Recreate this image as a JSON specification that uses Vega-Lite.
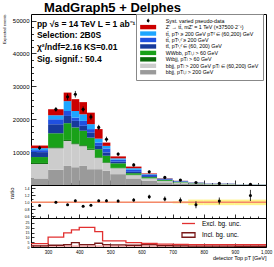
{
  "$schema": "https://vega.github.io/schema/vega-lite/v6.json",
  "autosize": "pad",
  "padding": {"left": 1, "top": 1, "right": 0, "bottom": 0},
  "spacing": 0,
  "bounds": "flush",
  "config": {
    "view": {"stroke": "#000", "strokeWidth": 1},
    "font": "Liberation Sans",
    "axis": {"grid": false, "domain": false, "tickColor": "#000", "labelColor": "#000", "titleColor": "#000", "labelFont": "Liberation Sans", "titleFont": "Liberation Sans", "titleFontWeight": "normal", "tickWidth": 0.8, "labelOverlap": false, "labelFlush": false}
  },
  "resolve": {"scale": {"x": "independent", "y": "independent", "color": "independent"}, "legend": {"color": "independent"}},
  "datasets": {
    "procs": [
      {"key": "p1", "proc": "bbjj, pTʲ,ʲ > 200 GeV"},
      {"key": "p2", "proc": "bbjj, pTʲ > 200 GeV pTʲ ∈ (60,200) GeV"},
      {"key": "p3", "proc": "Wtbjj, pTʲ > 60 GeV"},
      {"key": "p4", "proc": "WWbb, pTʲ,ʲ > 60 GeV"},
      {"key": "p5", "proc": "tt̄, pTᵗ,ᵗ̄ ∈ (60, 200) GeV"},
      {"key": "p6", "proc": "tt̄, pTᵗ,ᵗ̄ ≥ 200 GeV"},
      {"key": "p7", "proc": "tt̄, pTᵗ ≥ 200 GeV pTᵗ̄ ∈ (60,200) GeV"},
      {"key": "p8", "proc": "Z′ → tt̄, mZ′ = 1 TeV (×37500·2⁻¹)"}
    ],
    "bins": [
      {"lo": 245, "hi": 300, "p1": 2000, "p2": 4400, "p3": 300, "p4": 1800, "p5": 1500, "p6": 600, "p7": 600, "p8": 800, "sl": 0.985, "sh": 1.015},
      {"lo": 300, "hi": 350, "p1": 4600, "p2": 6600, "p3": 300, "p4": 4200, "p5": 2800, "p6": 1500, "p7": 1200, "p8": 1800, "sl": 0.985, "sh": 1.015},
      {"lo": 350, "hi": 375, "p1": 5800, "p2": 7600, "p3": 300, "p4": 5100, "p5": 2200, "p6": 1500, "p7": 3000, "p8": 2600, "sl": 0.985, "sh": 1.015},
      {"lo": 375, "hi": 400, "p1": 5400, "p2": 7000, "p3": 300, "p4": 4800, "p5": 2000, "p6": 1000, "p7": 2000, "p8": 3600, "sl": 0.985, "sh": 1.015},
      {"lo": 400, "hi": 425, "p1": 5800, "p2": 6000, "p3": 300, "p4": 4400, "p5": 1500, "p6": 1500, "p7": 2000, "p8": 3700, "sl": 0.985, "sh": 1.015},
      {"lo": 425, "hi": 450, "p1": 4800, "p2": 5900, "p3": 300, "p4": 3400, "p5": 1600, "p6": 1000, "p7": 1500, "p8": 3500, "sl": 0.985, "sh": 1.015},
      {"lo": 450, "hi": 475, "p1": 4800, "p2": 3400, "p3": 200, "p4": 2500, "p5": 1000, "p6": 1000, "p7": 1200, "p8": 2900, "sl": 0.985, "sh": 1.015},
      {"lo": 475, "hi": 500, "p1": 4300, "p2": 2400, "p3": 200, "p4": 2000, "p5": 1000, "p6": 1200, "p7": 800, "p8": 1000, "sl": 0.985, "sh": 1.015},
      {"lo": 500, "hi": 550, "p1": 3300, "p2": 1800, "p3": 100, "p4": 1400, "p5": 500, "p6": 600, "p7": 400, "p8": 600, "sl": 0.985, "sh": 1.015},
      {"lo": 550, "hi": 600, "p1": 2000, "p2": 1000, "p3": 100, "p4": 500, "p5": 400, "p6": 600, "p7": 500, "p8": 500, "sl": 0.985, "sh": 1.015},
      {"lo": 600, "hi": 650, "p1": 1300, "p2": 700, "p3": 50, "p4": 350, "p5": 300, "p6": 400, "p7": 200, "p8": 200, "sl": 0.985, "sh": 1.015},
      {"lo": 650, "hi": 700, "p1": 800, "p2": 400, "p3": 50, "p4": 250, "p5": 200, "p6": 200, "p7": 100, "p8": 100, "sl": 0.985, "sh": 1.015},
      {"lo": 700, "hi": 750, "p1": 500, "p2": 250, "p3": 30, "p4": 170, "p5": 120, "p6": 130, "p7": 50, "p8": 50, "sl": 0.97, "sh": 1.03},
      {"lo": 750, "hi": 800, "p1": 300, "p2": 150, "p3": 20, "p4": 100, "p5": 80, "p6": 80, "p7": 30, "p8": 40, "sl": 0.92, "sh": 1.08},
      {"lo": 800, "hi": 900, "p1": 170, "p2": 80, "p3": 10, "p4": 60, "p5": 50, "p6": 50, "p7": 10, "p8": 20, "sl": 0.92, "sh": 1.08},
      {"lo": 900, "hi": 1000, "p1": 80, "p2": 40, "p3": 5, "p4": 25, "p5": 20, "p6": 20, "p7": 5, "p8": 5, "sl": 0.92, "sh": 1.08}
    ],
    "pts": [
      {"x": 272.5, "n": 11300, "err": 600, "r": 0.91, "rerr": 0.03},
      {"x": 325, "n": 23000, "err": 700, "r": 1.0, "rerr": 0.03},
      {"x": 362.5, "n": 26800, "err": 1000, "r": 0.93, "rerr": 0.03},
      {"x": 387.5, "n": 27600, "err": 1000, "r": 1.05, "rerr": 0.03},
      {"x": 412.5, "n": 23000, "err": 900, "r": 0.89, "rerr": 0.03},
      {"x": 437.5, "n": 20700, "err": 900, "r": 0.92, "rerr": 0.03},
      {"x": 462.5, "n": 17500, "err": 800, "r": 1.05, "rerr": 0.03},
      {"x": 487.5, "n": 13900, "err": 800, "r": 1.05, "rerr": 0.04},
      {"x": 525, "n": 9400, "err": 500, "r": 1.04, "rerr": 0.04},
      {"x": 575, "n": 6100, "err": 500, "r": 1.07, "rerr": 0.05},
      {"x": 625, "n": 4000, "err": 400, "r": 1.16, "rerr": 0.06},
      {"x": 675, "n": 2300, "err": 300, "r": 1.1, "rerr": 0.07},
      {"x": 725, "n": 1500, "err": 250, "r": 1.06, "rerr": 0.08},
      {"x": 775, "n": 750, "err": 200, "r": 0.93, "rerr": 0.1},
      {"x": 850, "n": 470, "err": 150, "r": 1.04, "rerr": 0.1},
      {"x": 950, "n": 240, "err": 100, "r": 1.2, "rerr": 0.16}
    ],
    "sig": [
      {"e": 245, "ex": 3.5, "inc": 1.2},
      {"e": 300, "ex": 10.2, "inc": 1.8},
      {"e": 350, "ex": 14.7, "inc": 2.4},
      {"e": 375, "ex": 17.8, "inc": 4.5},
      {"e": 400, "ex": 20.2, "inc": 2.4},
      {"e": 425, "ex": 20.2, "inc": 2.4},
      {"e": 450, "ex": 16.0, "inc": 3.9},
      {"e": 475, "ex": 6.3, "inc": 2.4},
      {"e": 500, "ex": 6.3, "inc": 2.1},
      {"e": 550, "ex": 4.5, "inc": 1.8},
      {"e": 600, "ex": 3.6, "inc": 2.4},
      {"e": 650, "ex": 3.0, "inc": 1.5},
      {"e": 700, "ex": 2.7, "inc": 1.2},
      {"e": 750, "ex": 2.4, "inc": 1.0},
      {"e": 800, "ex": 2.4, "inc": 0.9},
      {"e": 900, "ex": 2.4, "inc": 0.8},
      {"e": 1000, "ex": 2.4, "inc": 0.8}
    ]
  },
  "vconcat": [
    {
      "width": 235,
      "height": 171,
      "resolve": {"axis": {"x": "independent", "y": "independent"}},
      "layer": [
        {
          "data": {"name": "bins"},
          "transform": [
            {"fold": ["p1", "p2", "p3", "p4", "p5", "p6", "p7", "p8"], "as": ["key", "v"]},
            {"lookup": "key", "from": {"data": {"name": "procs"}, "key": "key", "fields": ["proc"]}},
            {"stack": "v", "groupby": ["lo"], "sort": [{"field": "key", "order": "ascending"}], "as": ["y0", "y1"]}
          ],
          "mark": {"type": "bar"},
          "encoding": {
            "x": {"field": "lo", "type": "quantitative", "title": null, "scale": {"domain": [245, 1000], "nice": false, "zero": false},
              "axis": {"orient": "bottom", "values": [300,400,500,600,700,800,900], "labels": false, "title": null, "tickSize": -5}},
            "x2": {"field": "hi"},
            "y": {"field": "y0", "type": "quantitative", "title": "Expected events", "scale": {"domain": [0, 52000], "nice": false},
              "axis": {"orient": "left", "values": [10000,20000,30000,40000,50000], "format": "d",
                "labelFontSize": 6, "labelPadding": 7, "titleFontSize": 4, "titleX": -25, "titleY": 0, "titleAlign": "right", "titleBaseline": "bottom", "titleAngle": -90,
                "tickSize": -5}},
            "y2": {"field": "y1"},
            "color": {"field": "proc", "type": "nominal",
              "scale": {"domain": ["Syst. varied pseudo-data", "Z′ → tt̄, mZ′ = 1 TeV (×37500·2⁻¹)", "tt̄, pTᵗ ≥ 200 GeV pTᵗ̄ ∈ (60,200) GeV", "tt̄, pTᵗ,ᵗ̄ ≥ 200 GeV", "tt̄, pTᵗ,ᵗ̄ ∈ (60, 200) GeV", "WWbb, pTʲ,ʲ > 60 GeV", "Wtbjj, pTʲ > 60 GeV", "bbjj, pTʲ > 200 GeV pTʲ ∈ (60,200) GeV", "bbjj, pTʲ,ʲ > 200 GeV"],
                "range": ["#000000", "#cc0000", "#1ea5ff", "#2050e0", "#173a9c", "#19a119", "#0a6a0a", "#cccccc", "#9a9a9a"]},
              "legend": {"orient": "none", "legendX": 105, "legendY": 0, "title": null, "padding": 4, "strokeColor": "#888", "fillColor": "#fff",
                "labelFontSize": 5.3, "labelFont": "Liberation Sans", "labelColor": "#000", "symbolSize": 25, "rowPadding": 0.45,
                "symbolType": "M-3.2,-0.88H3.2V0.88H-3.2Z", "symbolOffset": 5.5, "labelOffset": 15, "symbolStrokeWidth": 0, "labelLimit": 200,
                "encode": {"symbols": {"update": {"shape": {"signal": "datum.value === 'Syst. varied pseudo-data' ? 'M-0.55,0A0.55,0.55,0,1,1,0.55,0A0.55,0.55,0,1,1,-0.55,0Z M-0.08,-0.9H0.08V0.9H-0.08Z' : 'M-3.2,-0.88H3.2V0.88H-3.2Z'"}}}}}}
          }
        },
        {
          "data": {"name": "pts"},
          "mark": {"type": "errorbar", "color": "#000", "thickness": 0.8},
          "encoding": {
            "x": {"field": "x", "type": "quantitative", "title": null,
              "axis": {"orient": "bottom", "values": [250,275,325,350,375,425,450,475,525,550,575,625,650,675,725,750,775,825,850,875,925,950,975], "labels": false, "title": null, "tickSize": -2.5}},
            "y": {"field": "n", "type": "quantitative", "title": null,
              "axis": {"orient": "left", "values": [2000,4000,6000,8000,12000,14000,16000,18000,22000,24000,26000,28000,32000,34000,36000,38000,42000,44000,46000,48000], "labels": false, "title": null, "tickSize": -2.5}},
            "yError": {"field": "err"}
          }
        },
        {
          "data": {"name": "pts"},
          "mark": {"type": "circle", "color": "#000", "size": 10, "opacity": 1},
          "encoding": {
            "x": {"field": "x", "type": "quantitative", "axis": null},
            "y": {"field": "n", "type": "quantitative", "axis": null}
          }
        },
        {
          "data": {"values": [{}]},
          "mark": {"type": "text", "align": "left", "baseline": "top", "font": "Liberation Sans", "fontWeight": "bold", "fontSize": 8.5, "lineHeight": 11.7, "color": "#000"},
          "encoding": {
            "x": {"datum": 264, "axis": null},
            "y": {"datum": 50300, "axis": null},
            "text": {"value": ["pp  √s = 14 TeV   L = 1 ab⁻¹", "Selection: 2B0S", "χ²/ndf=2.16 KS=0.01", "Sig. signif.: 50.4"]}
          }
        },
        {
          "data": {"values": [{}]},
          "mark": {"type": "text", "align": "left", "baseline": "alphabetic", "font": "Liberation Sans", "fontWeight": "bold", "fontSize": 13, "color": "#000"},
          "encoding": {
            "x": {"datum": 287, "axis": null},
            "y": {"datum": 52700, "axis": null},
            "text": {"value": "MadGraph5 + Delphes"}
          }
        }
      ]
    },
    {
      "width": 235,
      "height": 33,
      "resolve": {"axis": {"x": "independent", "y": "independent"}},
      "layer": [
        {
          "data": {"name": "bins"},
          "mark": {"type": "rect", "color": "#fff06a", "opacity": 0.8},
          "encoding": {
            "x": {"field": "lo", "type": "quantitative", "title": null, "scale": {"domain": [245, 1000], "nice": false, "zero": false},
              "axis": {"orient": "bottom", "values": [300,400,500,600,700,800,900], "labels": false, "title": null, "tickSize": -4}},
            "x2": {"field": "hi"},
            "y": {"field": "sl", "type": "quantitative", "title": "ratio", "scale": {"domain": [0.55, 1.5], "nice": false, "zero": false},
              "axis": {"orient": "left", "values": [0.6,0.8,1,1.2,1.4], "labelFontSize": 3.5, "labelPadding": 6, "titleFontSize": 6, "titleX": -17, "titleY": 2, "titleAlign": "right", "titleBaseline": "bottom", "titleAngle": -90, "tickSize": -4}},
            "y2": {"field": "sh"}
          }
        },
        {
          "data": {"values": [{}]},
          "mark": {"type": "rule", "color": "#f4886a", "strokeWidth": 1.5},
          "encoding": {"y": {"datum": 1, "axis": null}}
        },
        {
          "data": {"name": "pts"},
          "mark": {"type": "errorbar", "color": "#000", "thickness": 0.8},
          "encoding": {
            "x": {"field": "x", "type": "quantitative", "title": null,
              "axis": {"orient": "bottom", "values": [250,275,325,350,375,425,450,475,525,550,575,625,650,675,725,750,775,825,850,875,925,950,975], "labels": false, "title": null, "tickSize": -2}},
            "y": {"field": "r", "type": "quantitative", "title": null,
              "axis": {"orient": "left", "values": [0.7,0.9,1.1,1.3], "labels": false, "title": null, "tickSize": -2}},
            "yError": {"field": "rerr"}
          }
        },
        {
          "data": {"name": "pts"},
          "mark": {"type": "circle", "color": "#000", "size": 9, "opacity": 1},
          "encoding": {
            "x": {"field": "x", "type": "quantitative", "axis": null},
            "y": {"field": "r", "type": "quantitative", "axis": null}
          }
        }
      ]
    },
    {
      "width": 235,
      "height": 29,
      "resolve": {"axis": {"x": "independent", "y": "independent"}},
      "layer": [
        {
          "data": {"values": [{}]},
          "mark": {"type": "rect", "color": "#e85a5a", "opacity": 0.45},
          "encoding": {
            "x": {"datum": 245, "type": "quantitative", "title": null, "scale": {"domain": [245, 1000], "nice": false, "zero": false},
              "axis": {"orient": "bottom", "values": [300,400,500,600,700,800,900,1000], "labelFontSize": 4.5, "labelPadding": 6,
                "title": "detector Top pT [GeV]", "titleFontSize": 5.5, "titleAnchor": "end", "titlePadding": 2, "tickSize": -4}},
            "x2": {"datum": 1000},
            "y": {"datum": 0, "type": "quantitative", "title": "signif.", "scale": {"domain": [0, 30], "nice": false},
              "axis": {"orient": "left", "values": [0,5,10,15,20,25], "labelFontSize": 3.5, "labelPadding": 5, "titleFontSize": 6, "titleX": -10, "titleY": 14, "titleAlign": "center", "titleBaseline": "bottom", "titleAngle": -90, "tickSize": -3}},
            "y2": {"datum": 1.8}
          }
        },
        {
          "data": {"name": "sig"},
          "mark": {"type": "line", "interpolate": "step-after", "strokeWidth": 1.3},
          "encoding": {
            "x": {"field": "e", "type": "quantitative", "title": null,
              "axis": {"orient": "bottom", "values": [250,275,325,350,375,425,450,475,525,550,575,625,650,675,725,750,775,825,850,875,925,950,975], "labels": false, "title": null, "tickSize": -2}},
            "y": {"field": "inc", "type": "quantitative", "axis": null},
            "color": {"datum": "Incl. bg. unc.", "type": "nominal",
              "scale": {"domain": ["Excl. bg. unc.", "Incl. bg. unc."], "range": ["#e23030", "#7a1a1a"]},
              "legend": {"orient": "none", "legendX": 150, "legendY": 2, "title": null, "padding": 0, "labelFontSize": 6.5, "labelFont": "Liberation Sans", "labelColor": "#000",
                "symbolSize": 25, "rowPadding": 2.5, "symbolType": "M-2.6,0H2.6", "symbolStrokeWidth": 1.3, "symbolOffset": 4, "labelOffset": 10,
                "encode": {"symbols": {"update": {"shape": {"signal": "datum.value === 'Incl. bg. unc.' ? 'M-2.6,-0.9H2.6V0.9H-2.6Z' : 'M-2.6,0H2.6'"}}}}}}
          }
        },
        {
          "data": {"name": "sig"},
          "mark": {"type": "line", "interpolate": "step-after", "strokeWidth": 1.3},
          "encoding": {
            "x": {"field": "e", "type": "quantitative", "axis": null},
            "y": {"field": "ex", "type": "quantitative", "axis": null},
            "color": {"datum": "Excl. bg. unc.", "type": "nominal"}
          }
        }
      ]
    }
  ]
}
